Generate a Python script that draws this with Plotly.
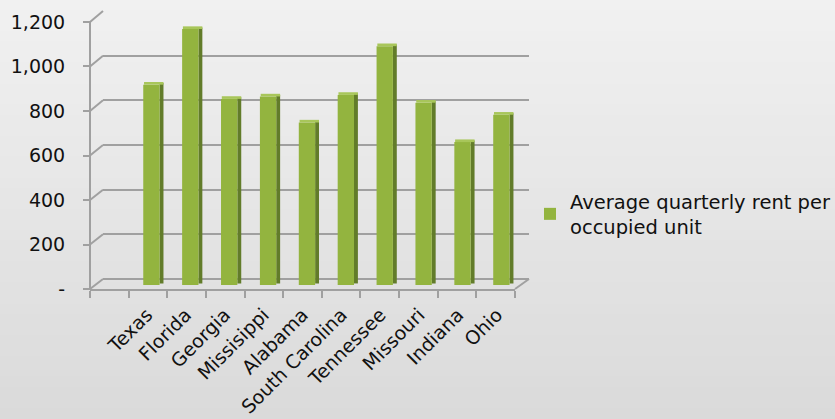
import plotly.graph_objects as go

# ---------------- data ----------------
states = ["Texas", "Florida", "Georgia", "Missisippi", "Alabama",
          "South Carolina", "Tennessee", "Missouri", "Indiana", "Ohio"]
rent = [900, 1150, 836, 847, 730, 854, 1073, 819, 642, 765]
series_name = "Average quarterly rent per<br>occupied unit"
y_ticks = [0, 200, 400, 600, 800, 1000, 1200]
y_ticktext = ["-", "200", "400", "600", "800", "1,000", "1,200"]

# ---------------- geometry ----------------
W, H = 835, 419
ML, MR, MT, MB = 90, 306, 11, 130
PW, PH = W - ML - MR, H - MT - MB

LABEL_RANGE = [0, 1249.4]      # front plane (tick labels)
GRID_RANGE = [-44.8, 1200]     # back wall (gridlines)
BAR_RANGE = [-18, 1231]        # bars (mid depth)
BACK_X0 = 13 / PW              # back wall left edge in paper coords
FRONT_X1 = 425 / PW            # front floor right edge in paper coords

def ypaper(v, rng):
    return (v - rng[0]) / (rng[1] - rng[0])

fig = go.Figure()

# side faces (dark)
fig.add_trace(go.Bar(x=states, y=rent, base=[7] * len(rent), width=0.1, offset=0.17,
                     marker=dict(color="#627C2A", line=dict(width=0)),
                     xaxis="x", yaxis="y3", showlegend=False, hoverinfo="skip"))
# front faces
fig.add_trace(go.Bar(x=states, y=rent, width=0.42, offset=-0.25, name=series_name,
                     marker=dict(color="#93B43F", line=dict(width=0)),
                     xaxis="x", yaxis="y3", showlegend=True))
# top caps
fig.add_trace(go.Bar(x=states, y=[12] * len(rent), base=rent, width=0.5, offset=-0.23,
                     marker=dict(color="#A8C65A", line=dict(width=0)),
                     xaxis="x", yaxis="y3", showlegend=False, hoverinfo="skip"))
# anchors for helper axes
fig.add_trace(go.Scatter(x=[None], y=[None], xaxis="x", yaxis="y2", showlegend=False))
fig.add_trace(go.Scatter(x=[None], y=[None], xaxis="x2", yaxis="y", showlegend=False))

shapes = []
# vertical background gradient
N = 40
top_c, bot_c = (241, 241, 241), (218, 218, 218)
y_lo, y_hi = -MB / PH, 1 + MT / PH
for i in range(N):
    t = (i + 0.5) / N
    c = tuple(round(top_c[k] + (bot_c[k] - top_c[k]) * t) for k in range(3))
    y1 = y_hi - (y_hi - y_lo) * i / N
    y0 = y_hi - (y_hi - y_lo) * (i + 1) / N
    shapes.append(dict(type="rect", xref="paper", yref="paper",
                       x0=-ML / PW, x1=1 + MR / PW, y0=y0 - 0.002, y1=y1 + 0.002,
                       fillcolor="rgb(%d,%d,%d)" % c, line=dict(width=0), layer="below"))

gray = "#A0A0A0"
# front vertical axis line
shapes.append(dict(type="line", xref="paper", yref="y", x0=0, x1=0, y0=0, y1=1200,
                   line=dict(color=gray, width=2)))
# side wall connectors
for v in y_ticks:
    shapes.append(dict(type="line", xref="paper", yref="paper",
                       x0=0, y0=ypaper(v, LABEL_RANGE),
                       x1=BACK_X0, y1=ypaper(v, GRID_RANGE),
                       line=dict(color=gray, width=2)))
# right floor corner
shapes.append(dict(type="line", xref="paper", yref="paper",
                   x0=FRONT_X1, y0=0, x1=1, y1=ypaper(0, GRID_RANGE),
                   line=dict(color=gray, width=2)))

font_family = "DejaVu Sans"

fig.update_layout(
    width=W, height=H,
    margin=dict(l=ML, r=MR, t=MT, b=MB, pad=0, autoexpand=False),
    paper_bgcolor="#E6E6E6", plot_bgcolor="rgba(0,0,0,0)",
    font=dict(family=font_family, size=19, color="#111111"),
    barmode="overlay",
    shapes=shapes,
    xaxis=dict(domain=[BACK_X0, 1], anchor="y", range=[-1.285, 9.67],
               type="category", showgrid=False, zeroline=False, showline=False,
               ticks="", tickangle=-45, ticklabelstandoff=10, ticklabelshift=-6,
               automargin=False,
               tickfont=dict(size=19, family=font_family, color="#111111")),
    xaxis2=dict(domain=[0, FRONT_X1], anchor="y", range=[0, 11], automargin=False,
                tickmode="linear", tick0=0, dtick=1, ticks="outside", ticklen=7,
                tickcolor=gray, tickwidth=2, showline=True, linecolor=gray, linewidth=2,
                showticklabels=False, showgrid=False, zeroline=False),
    yaxis=dict(domain=[0, 1], anchor="free", position=0, range=LABEL_RANGE,
               tickvals=y_ticks, ticktext=y_ticktext, ticks="outside", ticklen=7,
               tickcolor=gray, tickwidth=2, ticklabelstandoff=14, automargin=False,
               showline=False, showgrid=False, zeroline=False,
               tickfont=dict(size=19, family=font_family, color="#111111")),
    yaxis2=dict(overlaying="y", anchor="x", range=GRID_RANGE, tickvals=y_ticks,
                showticklabels=False, ticks="", showgrid=True, gridcolor=gray,
                gridwidth=2, zeroline=False, showline=False, automargin=False),
    yaxis3=dict(overlaying="y", anchor="x", range=BAR_RANGE, visible=False,
                showgrid=False, zeroline=False, automargin=False),
    legend=dict(x=(530 - ML) / PW, y=1 - (182 - MT) / PH, xanchor="left", yanchor="top",
                bgcolor="rgba(0,0,0,0)", borderwidth=0,
                font=dict(size=19.5, family=font_family, color="#111111"),
                itemwidth=30, tracegroupgap=0),
)

fig.write_html("out.html")
